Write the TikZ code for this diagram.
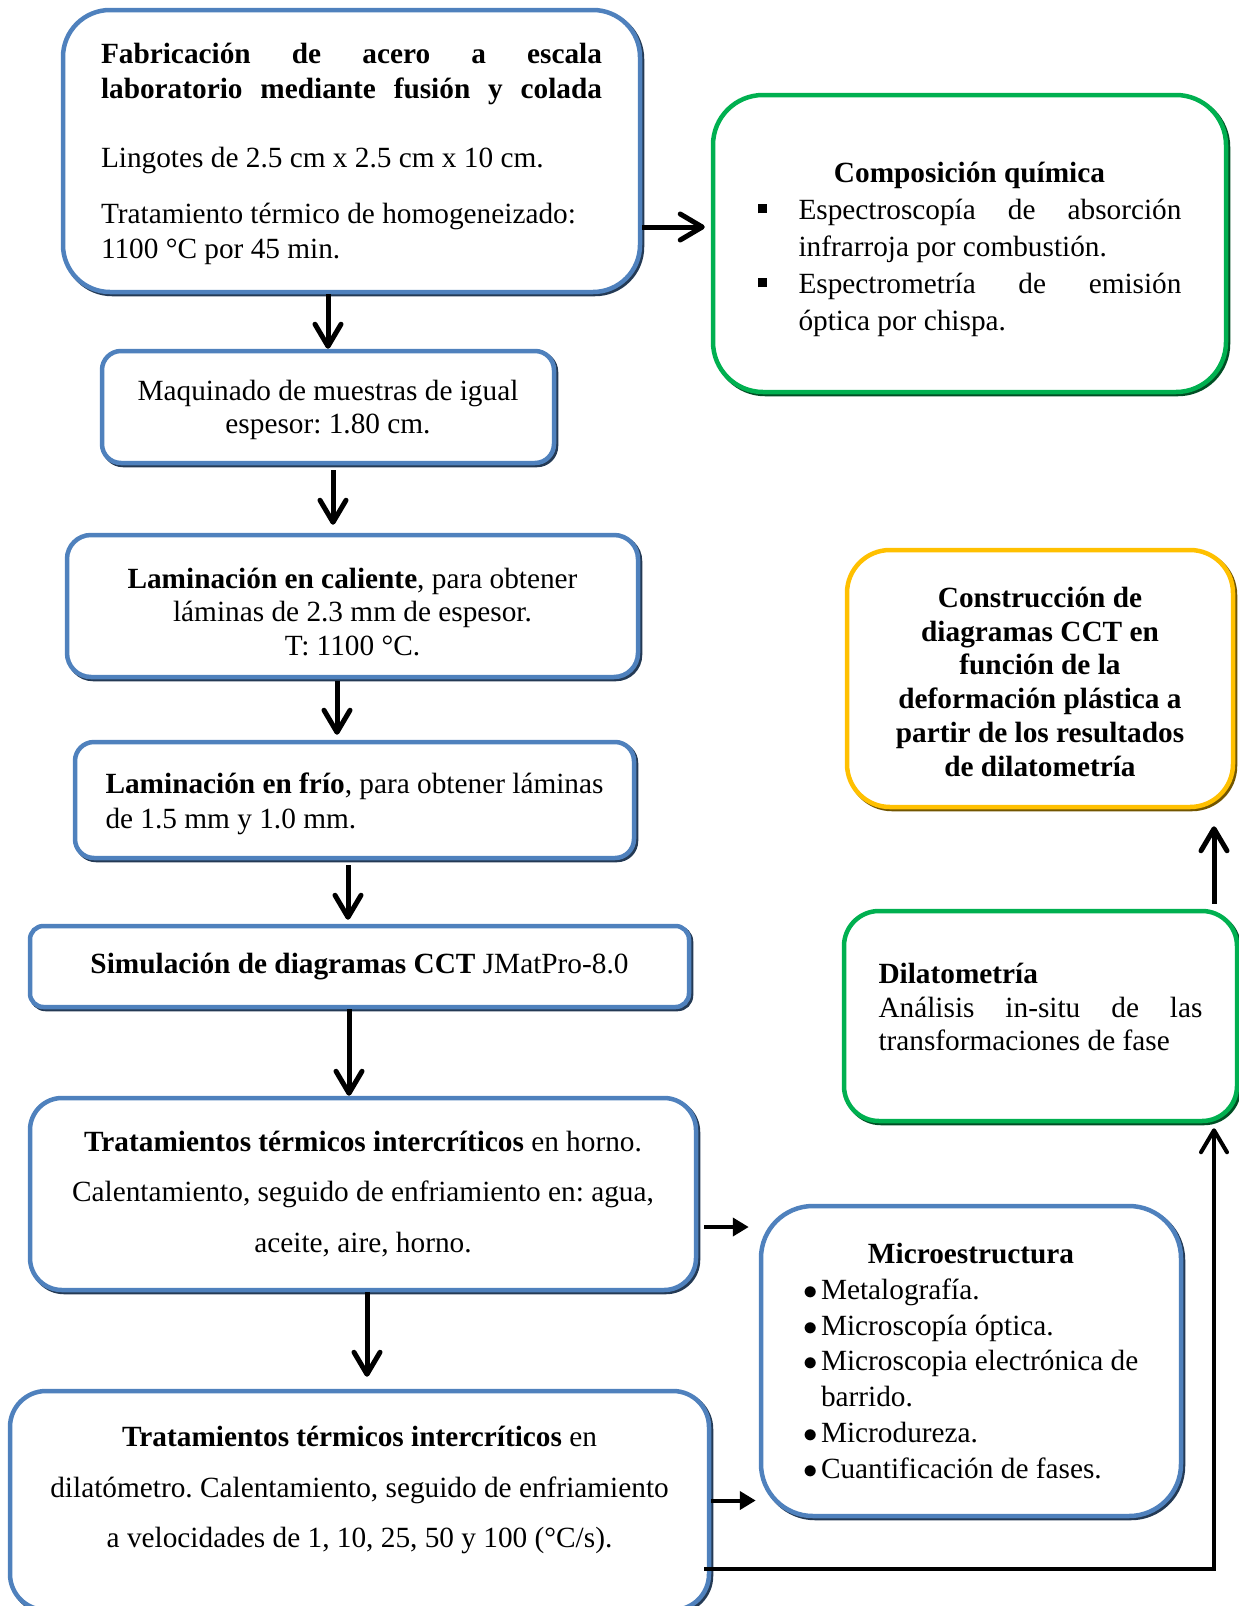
\documentclass[tikz,border=0pt]{standalone}
\usepackage{fontspec}
\setmainfont{Liberation Serif}
\usetikzlibrary{arrows.meta}
\definecolor{boxblue}{RGB}{79,129,189}
\definecolor{boxgreen}{RGB}{0,176,80}
\definecolor{boxgold}{RGB}{255,192,0}
\newcommand{\sqitem}{\makebox[20.5pt][l]{\rule[3pt]{4.5pt}{4.5pt}}}
\newcommand{\dotitem}{\hspace*{2.5pt}\makebox[9pt][l]{$\bullet$}}

\begin{document}
\frenchspacing
\begin{tikzpicture}[x=0.5pt,y=-0.5pt,
    box/.style={draw=#1, line width=2.25pt, fill=white, inner sep=0pt,
      preaction={draw=#1!45!black, line width=2.25pt, transform canvas={shift={(1pt,-1pt)}}},
      font=\fontsize{14.65}{17.5}\selectfont},
    down/.style={-{Straight Barb[length=11pt,width=13pt,round]}, line width=2.5pt},
    side/.style={-{Triangle[length=8pt,width=9pt]}, line width=2pt}]
  \useasboundingbox (0,0) rectangle (1238,1606);
  % left column
  \node[box=boxblue, minimum width=288.5pt, minimum height=141pt, rounded corners=23.5pt,
    text width=250.5pt, align=flush left] (fab) at (351.5,151)
    {\textbf{Fabricación\hfill de\hfill acero\hfill a\hfill escala}\rule{0pt}{13pt}\\
     \textbf{laboratorio\hfill mediante\hfill fusión\hfill y\hfill colada}\\[17pt]
     Lingotes de 2.5 cm x 2.5 cm x 10 cm.\\[10.5pt]
     Tratamiento térmico de homogeneizado:\\
     1100 °C por 45 min.};
  \node[box=boxblue, minimum width=226pt, minimum height=56pt, rounded corners=9.5pt,
    align=center, font=\fontsize{14.65}{16.5}\selectfont] (maq) at (328,407)
    {\rule{0pt}{13pt}Maquinado de muestras de igual\\ espesor: 1.80 cm.};
  \node[box=boxblue, minimum width=285.5pt, minimum height=71pt, rounded corners=12pt,
    align=center, font=\fontsize{14.65}{16.75}\selectfont] (lamc) at (352.5,606)
    {\rule{0pt}{16pt}\textbf{Laminación en caliente}, para obtener\\ láminas de 2.3 mm de espesor.\\ T: 1100 °C.};
  \node[box=boxblue, minimum width=279.5pt, minimum height=58pt, rounded corners=9.5pt,
    align=flush left] (lamf) at (354.5,800)
    {\rule{0pt}{14.5pt}\textbf{Laminación en frío}, para obtener láminas\\ de 1.5 mm y 1.0 mm.};
  \node[box=boxblue, minimum width=329.5pt, minimum height=40.5pt, rounded corners=6.75pt]
    (sim) at (359.5,966.5) {\textbf{Simulación de diagramas CCT} JMatPro-8.0};
  \node[box=boxblue, minimum width=333pt, minimum height=96pt, rounded corners=16pt,
    align=center, font=\fontsize{14.65}{25.25}\selectfont] (trath) at (363,1194)
    {\textbf{Tratamientos térmicos intercríticos} en horno.\\
     Calentamiento, seguido de enfriamiento en: agua,\\ aceite, aire, horno.};
  \node[box=boxblue, minimum width=349.5pt, minimum height=109.5pt, rounded corners=18pt,
    align=center, font=\fontsize{14.65}{25.25}\selectfont] (tratd) at (359.5,1500.5)
    {\textbf{Tratamientos térmicos intercríticos} en\\
     dilatómetro. Calentamiento, seguido de enfriamiento\\
     a velocidades de 1, 10, 25, 50 y 100 (°C/s).\\[-12pt]\mbox{}};
  % right column
  \node[box=boxgreen, minimum width=256.5pt, minimum height=148.5pt, rounded corners=25pt,
    text width=212pt, align=flush left, font=\fontsize{14.65}{18.5}\selectfont] (comp) at (969.5,243.5)
    {\rule{0pt}{16pt}\hfill\textbf{Composición química}\hfill\null\\
     \sqitem Espectroscopía\hfill de\hfill absorción\\
     \hspace*{20.5pt}infrarroja por combustión.\\
     \sqitem Espectrometría\hfill de\hfill emisión\\
     \hspace*{20.5pt}óptica por chispa.};
  \node[box=boxgold, minimum width=193pt, minimum height=128.5pt, rounded corners=21.5pt,
    align=center, font=\fontsize{14.65}{16.9}\selectfont\bfseries] (cons) at (1040,678.5)
    {\rule{0pt}{13.5pt}Construcción de\\ diagramas CCT en\\ función de la\\ deformación plástica a\\
     partir de los resultados\\ de dilatometría};
  \node[box=boxgreen, minimum width=196.5pt, minimum height=105pt, rounded corners=17.5pt,
    text width=162pt, align=flush left, font=\fontsize{14.65}{16.75}\selectfont] (dila) at (1040.5,1016)
    {\textbf{Dilatometría}\\
     Análisis\hfill in-situ\hfill de\hfill las\\
     transformaciones de fase\\[-8pt]\mbox{}};
  \node[box=boxblue, minimum width=210pt, minimum height=155pt, rounded corners=26pt,
    text width=173pt, align=flush left, font=\fontsize{14.65}{17.9}\selectfont] (micro) at (971,1361)
    {\hfill\textbf{Microestructura}\hfill\null\\
     \dotitem Metalografía.\\
     \dotitem Microscopía óptica.\\
     \dotitem Microscopia electrónica de\\
     \hspace*{11.5pt}barrido.\\
     \dotitem Microdureza.\\
     \dotitem Cuantificación de fases.};
  % main flow
  \draw[down] (fab.south -| maq.north) -- (maq.north);
  \draw[down, shorten <=2.5pt, shorten >=4pt] ([xshift=2.5pt]maq.south) coordinate (a2) -- (a2 |- lamc.north);
  \draw[down, shorten <=1pt, shorten >=2.5pt] ([xshift=-7.75pt]lamc.south) coordinate (a3) -- (a3 |- lamf.north);
  \draw[down, shorten <=2.5pt, shorten >=2pt] ([xshift=-3.25pt]lamf.south) coordinate (a4) -- (a4 |- sim.north);
  \draw[down] ([xshift=-5.25pt]sim.south) coordinate (a5) -- (a5 |- trath.north);
  \draw[down, shorten >=6pt] ([xshift=2pt]trath.south) coordinate (a6) -- (a6 |- tratd.north);
  % characterisation
  \coordinate (b1) at ([yshift=8.25pt]comp.west);
  \draw[down, shorten >=3pt] (b1 -| fab.east) -- (b1);
  \coordinate (m1) at ([yshift=-16.5pt]trath.east);
  \draw[side, shorten <=3pt, shorten >=5pt] (m1) -- (m1 -| micro.west);
  \draw[side, shorten >=1.5pt] (tratd.east) -- (tratd.east -| micro.west);
  \coordinate (d1) at ([yshift=-34.25pt]tratd.east);
  \draw[down, line width=2pt, shorten >=2.5pt] ([xshift=-3.5pt]d1) -| ([xshift=86.75pt]dila.south);
  \draw[down, shorten <=2.5pt, shorten >=8.5pt] ([xshift=86.75pt]dila.north) coordinate (d2) -- (d2 |- cons.south);
\end{tikzpicture}
\end{document}
